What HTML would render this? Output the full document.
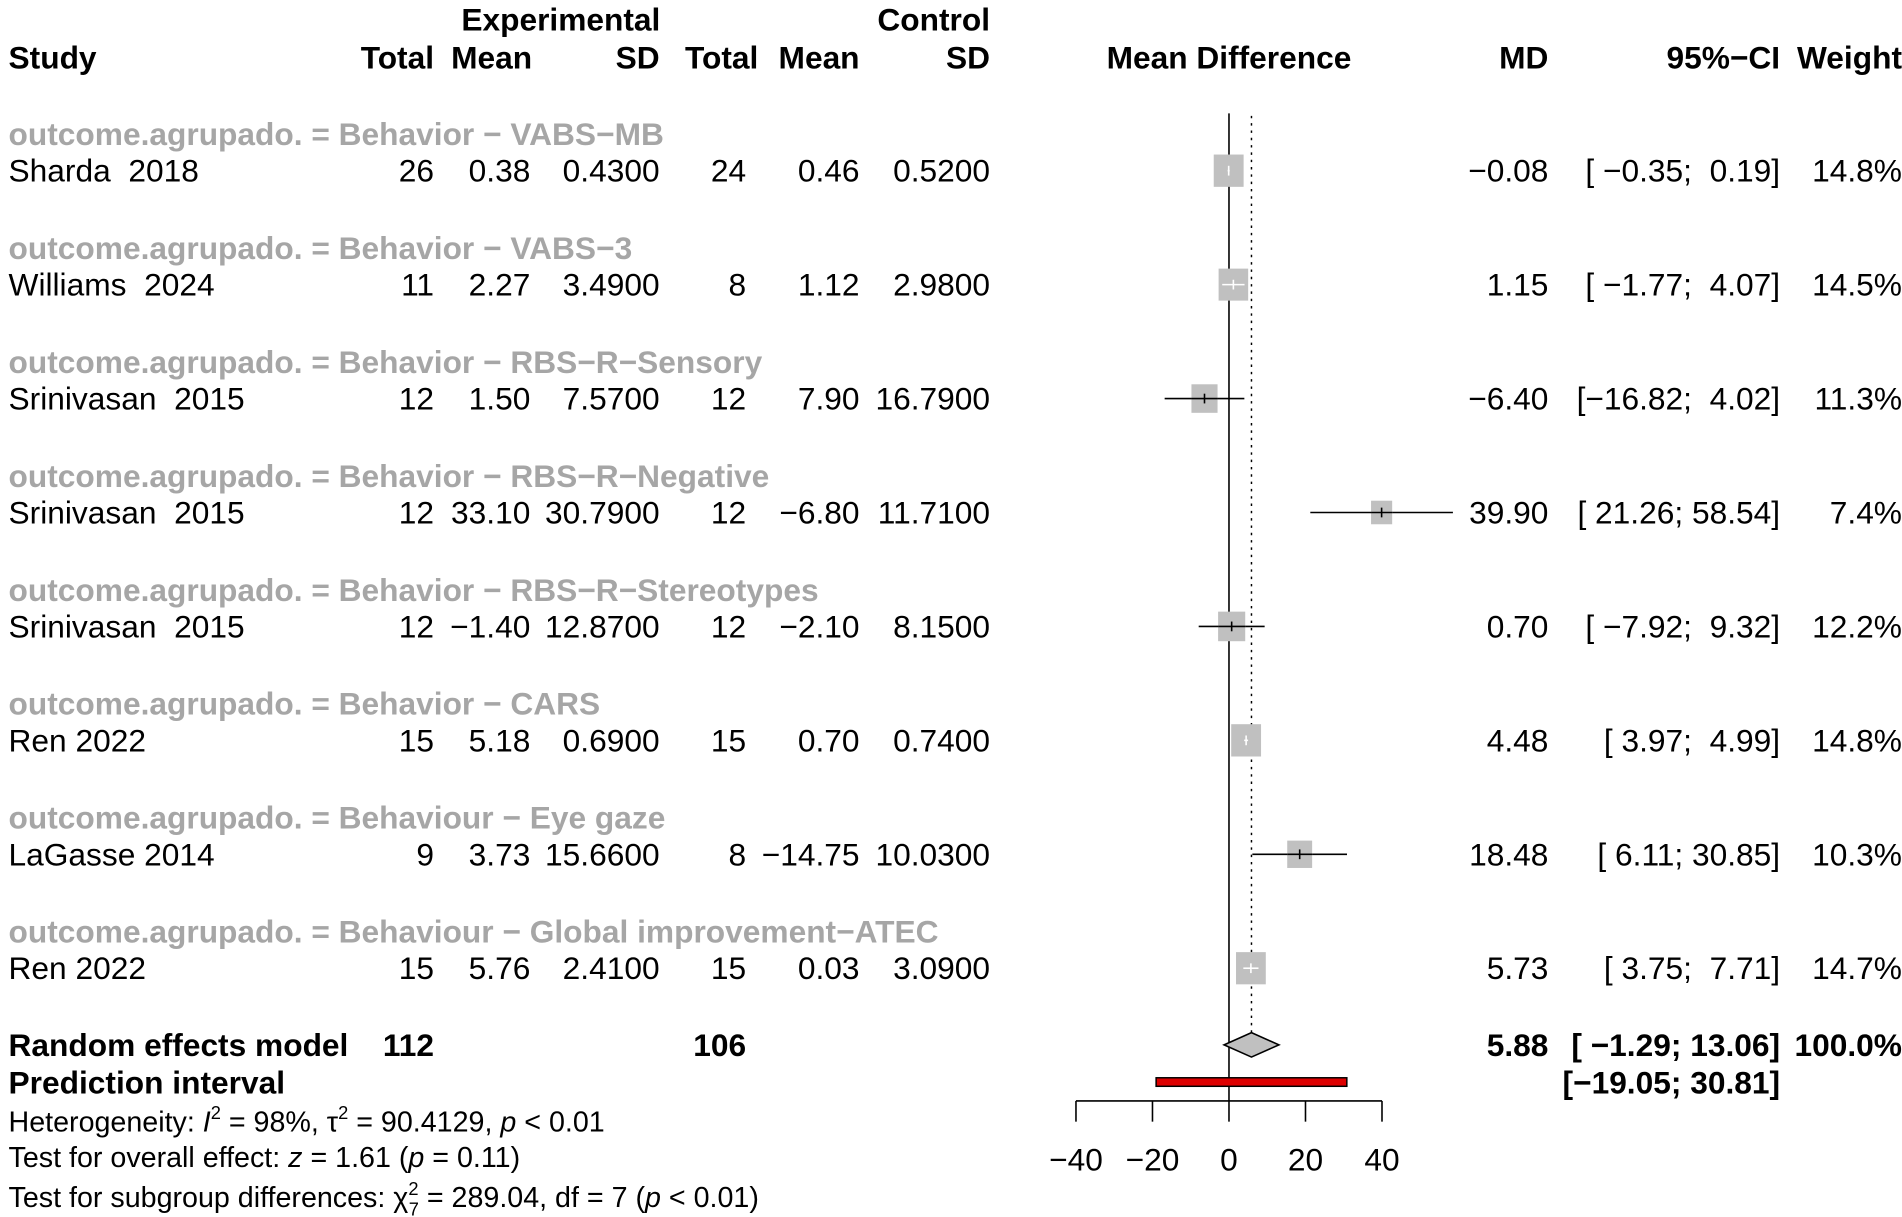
<!DOCTYPE html>
<html><head><meta charset="utf-8"><style>
html,body{margin:0;padding:0;background:#fff;}
svg{display:block;}
text{font-family:"Liberation Sans",Arial,sans-serif;white-space:pre;}
</style></head><body>
<svg id="chart" width="1902" height="1217" viewBox="0 0 1560 998.2" preserveAspectRatio="none" xmlns="http://www.w3.org/2000/svg" xml:space="preserve">
<g font-weight="bold" font-size="26">
<text x="460" y="25" text-anchor="middle">Experimental</text>
<text x="812" y="25" text-anchor="end">Control</text>
<text x="7" y="56">Study</text>
<text x="356" y="56" text-anchor="end">Total</text>
<text x="370" y="56">Mean</text>
<text x="541" y="56" text-anchor="end">SD</text>
<text x="622" y="56" text-anchor="end">Total</text>
<text x="705" y="56" text-anchor="end">Mean</text>
<text x="812" y="56" text-anchor="end">SD</text>
<text x="1008" y="56" text-anchor="middle">Mean Difference</text>
<text x="1270" y="56" text-anchor="end">MD</text>
<text x="1460" y="56" text-anchor="end">95%−CI</text>
<text x="1560" y="56" text-anchor="end">Weight</text>
</g>
<g id="rows"></g>
<g id="plot"></g>
<g font-size="26" font-weight="bold">
<text x="7" y="866">Random effects model</text>
<text x="356" y="866" text-anchor="end">112</text>
<text x="612" y="866" text-anchor="end">106</text>
<text x="1270" y="866" text-anchor="end">5.88</text>
<text x="1460" y="866" text-anchor="end">[ −1.29; 13.06]</text>
<text x="1560" y="866" text-anchor="end">100.0%</text>
<text x="7" y="897">Prediction interval</text>
<text x="1460" y="897" text-anchor="end">[−19.05; 30.81]</text>
</g>
<g font-size="23.5">
<text x="7" y="928">Heterogeneity: <tspan font-style="italic">I</tspan><tspan dy="-10" font-size="15">2</tspan><tspan dy="10"> = 98%, τ</tspan><tspan dy="-10" font-size="15">2</tspan><tspan dy="10"> = 90.4129, </tspan><tspan font-style="italic">p</tspan> &lt; 0.01</text>
<text x="7" y="957">Test for overall effect: <tspan font-style="italic">z</tspan> = 1.61 (<tspan font-style="italic">p</tspan> = 0.11)</text>
<text x="7" y="990">Test for subgroup differences: χ<tspan dy="-10" font-size="15">2</tspan><tspan dx="-8" dy="17" font-size="15">7</tspan><tspan dy="-7"> = 289.04, df = 7 (</tspan><tspan font-style="italic">p</tspan> &lt; 0.01)</text>
</g>
</svg>
<script>
const groups = ["Behavior − VABS−MB","Behavior − VABS−3","Behavior − RBS−R−Sensory","Behavior − RBS−R−Negative","Behavior − RBS−R−Stereotypes","Behavior − CARS","Behaviour − Eye gaze","Behaviour − Global improvement−ATEC"];
const studies = ["Sharda\u00a0\u00a02018","Williams\u00a0\u00a02024","Srinivasan\u00a0\u00a02015","Srinivasan\u00a0\u00a02015","Srinivasan\u00a0\u00a02015","Ren 2022","LaGasse 2014","Ren 2022"];
const expTotal = ["26","11","12","12","12","15","9","15"];
const expMean = ["0.38","2.27","1.50","33.10","−1.40","5.18","3.73","5.76"];
const expSD = ["0.4300","3.4900","7.5700","30.7900","12.8700","0.6900","15.6600","2.4100"];
const ctrlTotal = ["24","8","12","12","12","15","8","15"];
const ctrlMean = ["0.46","1.12","7.90","−6.80","−2.10","0.70","−14.75","0.03"];
const ctrlSD = ["0.5200","2.9800","16.7900","11.7100","8.1500","0.7400","10.0300","3.0900"];
const md = [-0.08,1.15,-6.40,39.90,0.70,4.48,18.48,5.73];
const lower = [-0.35,-1.77,-16.82,21.26,-7.92,3.97,6.11,3.75];
const upper = [0.19,4.07,4.02,58.54,9.32,4.99,30.85,7.71];
const weights = [14.8,14.5,11.3,7.4,12.2,14.8,10.3,14.7];
const pooled = [5.88,-1.29,13.06];
const predInt = [-19.05,30.81];
const ticks = [-40,-20,0,20,40];

const NS="http://www.w3.org/2000/svg";
const x = v => 1008 + v*3.1375;
const fmt = v => (v<0?"−":"")+Math.abs(v).toFixed(2);
const rows=document.getElementById('rows'), plot=document.getElementById('plot');
function mk(tag, attrs, parent, txt){const e=document.createElementNS(NS,tag);for(const k in attrs)e.setAttribute(k,attrs[k]);if(txt!==undefined)e.textContent=txt;parent.appendChild(e);return e;}
const NB='\u00a0';

let zl = mk('line',{x1:x(0),x2:x(0),y1:93,y2:903,stroke:'#000','stroke-width':1.3},plot);


let dl = mk('line',{x1:x(pooled[0]),x2:x(pooled[0]),y1:95,y2:848,stroke:'#000','stroke-width':1.2,'stroke-dasharray':'2,4'},plot);



for(let i=0;i<groups.length;i++){
  const gy=110+i*93.45, sy=140+i*93.45;
  let t=mk('text',{x:7,y:gy+9,'font-size':26,'font-weight':'bold',fill:'#a6a6a6'},rows,'outcome.agrupado. = '+groups[i]);
  
  
  const lo=fmt(lower[i]), up=fmt(upper[i]);
  const ci='['+(lower[i]<=-10?'':NB)+lo+';'+NB+(upper[i]<10&&upper[i]>=0?NB:'')+up+']';
  const cells=[[studies[i],7,'start'],[expTotal[i],356,'end'],[expMean[i],435,'end'],[expSD[i],541,'end'],[ctrlTotal[i],612,'end'],[ctrlMean[i],705,'end'],[ctrlSD[i],812,'end'],[fmt(md[i]),1270,'end'],[ci,1460,'end'],[weights[i].toFixed(1)+'%',1560,'end']];
  const names=['study-name','exp-total','exp-mean','exp-sd','ctrl-total','ctrl-mean','ctrl-sd','md-value','ci-value','weight-value'];
  cells.forEach((c,j)=>{
    let e=mk('text',{x:c[1],y:sy+9,'font-size':26,'text-anchor':c[2]},rows,c[0]);
    
    
  });
  const s=24.5*Math.sqrt(weights[i]/14.8);
  let ci2=mk('line',{x1:x(lower[i]),x2:x(upper[i]),y1:sy,y2:sy,stroke:'#000','stroke-width':1.3},plot);
  
  
  let sq=mk('rect',{x:x(md[i])-s/2,y:sy-s/2-1,width:s,height:s+2,fill:'#c0c0c0'},plot);
  
  
  const a=Math.max(x(lower[i]),x(md[i])-s/2), b=Math.min(x(upper[i]),x(md[i])+s/2);
  const inside = (x(lower[i])>=x(md[i])-s/2 && x(upper[i])<=x(md[i])+s/2);
  let il=mk('line',{x1:a,x2:b,y1:sy,y2:sy,stroke:inside?'#fff':'#000','stroke-width':1.3},plot);
  
  
  let tk=mk('line',{x1:x(md[i]),x2:x(md[i]),y1:sy-4,y2:sy+4,stroke:inside?'#fff':'#000','stroke-width':1.3},plot);
  
  
}
let dm=mk('polygon',{points:[x(pooled[1])+','+857, x(pooled[0])+','+847, x(pooled[2])+','+857, x(pooled[0])+','+867].join(' '),fill:'#c0c0c0',stroke:'#000','stroke-width':1.3},plot);


let pr=mk('rect',{x:x(predInt[0]),y:884,width:x(predInt[1])-x(predInt[0]),height:7,fill:'#dd0000',stroke:'#000','stroke-width':1.2},plot);


let ax=mk('line',{x1:x(ticks[0]),x2:x(ticks[ticks.length-1]),y1:903,y2:903,stroke:'#000','stroke-width':1.3},plot);


ticks.forEach(v=>{
  let l=mk('line',{x1:x(v),x2:x(v),y1:903,y2:920,stroke:'#000','stroke-width':1.3},plot);
  
  
  let t=mk('text',{x:x(v),y:960,'font-size':26,'text-anchor':'middle'},plot,(v<0?'−':'')+Math.abs(v));
  
  
});
</script>
</body></html>
